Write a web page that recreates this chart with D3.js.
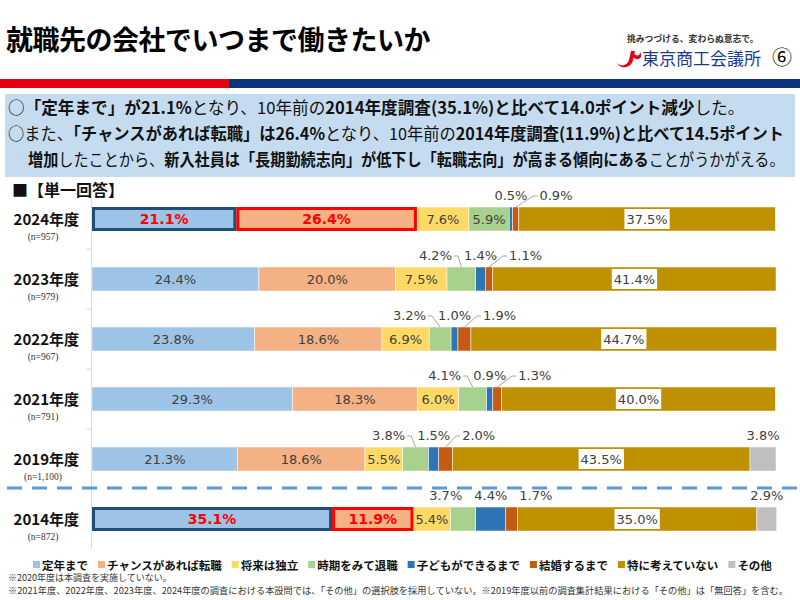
<!DOCTYPE html>
<html><head><meta charset="utf-8">
<script src="https://cdn.jsdelivr.net/npm/d3@7"></script>
<style>
html,body{margin:0;padding:0;background:#fff;}
svg{display:block;font-family:"Noto Sans CJK JP","Noto Sans",sans-serif;}
</style></head>
<body>
<svg id="chart" width="800" height="600"></svg>
<script>
// ---------- data ----------
const categories = ["2024年度","2023年度","2022年度","2021年度","2019年度","2014年度"];
const sampleSizes = ["(n=957)","(n=979)","(n=967)","(n=791)","(n=1,100)","(n=872)"];
const seriesNames = ["定年まで","チャンスがあれば転職","将来は独立","時期をみて退職","子どもができるまで","結婚するまで","特に考えていない","その他"];
const teinen    = [21.1, 24.4, 23.8, 29.3, 21.3, 35.1];
const chance    = [26.4, 20.0, 18.6, 18.3, 18.6, 11.9];
const dokuritsu = [7.6, 7.5, 6.9, 6.0, 5.5, 5.4];
const jiki      = [5.9, 4.2, 3.2, 4.1, 3.8, 3.7];
const kodomo    = [0.5, 1.4, 1.0, 0.9, 1.5, 4.4];
const kekkon    = [0.9, 1.1, 1.9, 1.3, 2.0, 1.7];
const tokuni    = [37.5, 41.4, 44.7, 40.0, 43.5, 35.0];
const sonota    = [null, null, null, null, 3.8, 2.9];
const highlightRows = ["2024年度","2014年度"];
const footnotes = [
  "※2020年度は本調査を実施していない。",
  "※2021年度、2022年度、2023年度、2024年度の調査における本設問では、「その他」の選択肢を採用していない。※2019年度以前の調査集計結果における「その他」は「無回答」を含む。"
];

const seriesValues = [teinen, chance, dokuritsu, jiki, kodomo, kekkon, tokuni, sonota];
const colors = ["#9dc3e6","#f4b183","#ffd966","#a9d18e","#2e75b6","#c55a11","#bf9000","#bfbfbf"];

const rows = categories.map((c,i)=>{
  const o = {cat:c, n:sampleSizes[i]};
  seriesNames.forEach((s,k)=>{ o[s] = seriesValues[k][i] || 0; o["_has"+k] = seriesValues[k][i] != null; });
  return o;
});

const svg = d3.select("#chart");

// ---------- header ----------
svg.append("text").attr("x",6).attr("y",50)
  .attr("font-size",27).attr("font-weight",700).attr("fill","#000")
  .attr("letter-spacing",-0.5)
  .text("就職先の会社でいつまで働きたいか");

svg.append("text").attr("x",627).attr("y",42).attr("font-size",8.8).attr("font-weight",700)
  .attr("fill","#333").text("挑みつづける、変わらぬ意志で。");
svg.append("path")
  .attr("d","M616,61 C618,67 627,67 629,60 L631,51 L635,51 L633,60 C631,69 619,70 616,61 Z M632,52 C636,56 639,57 641,52 L641,57 C638,61 635,59 632,56 Z")
  .attr("fill","#e60012");
svg.append("text").attr("x",642).attr("y",65).attr("font-size",17).attr("fill","#1b3a8c")
  .text("東京商工会議所");
svg.append("text").attr("x",772).attr("y",65).attr("font-size",20).attr("fill","#000").text("⑥");

svg.append("rect").attr("x",0).attr("y",79).attr("width",229).attr("height",9).attr("fill","#e60012");
svg.append("rect").attr("x",229).attr("y",79).attr("width",571).attr("height",9).attr("fill","#0c347c");

// summary box
svg.append("rect").attr("x",5).attr("y",94).attr("width",790).attr("height",83).attr("fill","#c5dcf0");
const lines = [
  {x:8, y:114, w:737, parts:[["○",0],["「定年まで」が21.1%",1],["となり、10年前の",0],["2014年度調査(35.1%)と比べて14.0ポイント減少",1],["した。",0]]},
  {x:8, y:140, w:777, parts:[["○また、",0],["「チャンスがあれば転職」は26.4%",1],["となり、10年前の",0],["2014年度調査(11.9%)と比べて14.5ポイント",1]]},
  {x:28, y:166, w:757, parts:[["増加",1],["したことから、",0],["新入社員は「長期勤続志向」が低下し「転職志向」が高まる傾向にある",1],["ことがうかがえる。",0]]}
];
lines.forEach(l=>{
  const g = svg.append("g");
  const t = g.append("text").attr("x",0).attr("y",0).attr("font-size",16.5).attr("fill","#111");
  l.parts.forEach(p=>t.append("tspan").attr("font-weight",p[1]?700:400).text(p[0]));
  const nat = t.node().getComputedTextLength();
  g.attr("transform",`translate(${l.x},${l.y}) scale(${l.w/nat},1)`);
});

svg.append("text").attr("x",12).attr("y",196).attr("font-size",16).attr("font-weight",700)
  .attr("fill","#111").text("■【単一回答】");

// ---------- chart ----------
const x = d3.scaleLinear().domain([0,100]).range([92,776]);
const y = d3.scaleBand().domain(categories).range([189,549]).paddingInner(0.6).paddingOuter(0.3);
const bh = y.bandwidth();
const step = y.step();

// axis line + ticks
svg.append("line").attr("x1",91.5).attr("x2",91.5).attr("y1",191).attr("y2",549)
  .attr("stroke","#d9d9d9").attr("stroke-width",1);
categories.slice(1).forEach(c=>{
  const yy = y(c) - (step-bh)/2;
  svg.append("line").attr("x1",86).attr("x2",91).attr("y1",yy).attr("y2",yy).attr("stroke","#d9d9d9");
});

// dashed separator
const sepY = y("2014年度") - (step-bh)/2 - 1;
svg.append("line").attr("x1",7).attr("x2",800).attr("y1",sepY).attr("y2",sepY)
  .attr("stroke","#5b9bd5").attr("stroke-width",3).attr("stroke-dasharray","15 10");

// category labels
categories.forEach((c,i)=>{
  const cy = y(c)+bh/2;
  svg.append("text").attr("x",79).attr("y",cy+6).attr("text-anchor","end")
    .attr("font-size",15).attr("font-weight",700).attr("fill","#111").text(c);
  svg.append("text").attr("x",43).attr("y",cy+21).attr("text-anchor","middle")
    .attr("font-size",9.5).attr("fill","#333").attr("font-family","Liberation Serif, serif").text(sampleSizes[i]);
});

const stack = d3.stack().keys(seriesNames)(rows);

const gBars = svg.append("g");
stack.forEach((layer,k)=>{
  gBars.selectAll(null).data(layer.filter(d=>d.data["_has"+k])).enter().append("rect")
    .attr("x",d=>x(d[0])).attr("width",d=>x(d[1])-x(d[0]))
    .attr("y",d=>y(d.data.cat)).attr("height",bh)
    .attr("fill",colors[k]).attr("stroke","#fff").attr("stroke-width",0.5);
});

// highlight frames
highlightRows.forEach(cat=>{
  [[0,"#1f4e79"],[1,"#ff0000"]].forEach(([k,col])=>{
    const d = stack[k].find(e=>e.data.cat===cat);
    svg.append("rect").attr("x",x(d[0])+1.5).attr("y",y(cat)+1.5)
      .attr("width",x(d[1])-x(d[0])-3).attr("height",bh-3)
      .attr("fill","none").attr("stroke",col).attr("stroke-width",3);
  });
});

const fmt = v=>v.toFixed(1)+"%";
const labelG = svg.append("g");
function measure(str,size,weight){
  const t = labelG.append("text").attr("font-size",size).attr("font-weight",weight||400)
    .attr("font-family","DejaVu Sans, sans-serif").text(str);
  const w = t.node().getComputedTextLength(); t.remove(); return w;
}
function outLabel(str,x0,yb){
  labelG.append("text").attr("x",x0).attr("y",yb)
    .attr("font-family","DejaVu Sans, sans-serif").attr("font-size",13).attr("fill","#404040").text(str);
}
function leader(pts){
  labelG.append("path").attr("d",d3.line()(pts)).attr("fill","none").attr("stroke","#a6a6a6").attr("stroke-width",1);
}

rows.forEach((r)=>{
  const cat = r.cat;
  const top = y(cat);
  const cy = top+bh/2;
  const hl = highlightRows.includes(cat);
  const seg = k=>{ const d = stack[k].find(e=>e.data.cat===cat); return {x0:x(d[0]),x1:x(d[1]),cx:(x(d[0])+x(d[1]))/2,v:r[seriesNames[k]],has:r["_has"+k]}; };
  const outside = {};
  for(let k=0;k<8;k++){
    const s = seg(k);
    if(!s.has) continue;
    const isOut = (k>=3 && k!==6 && s.v<5);
    if(!isOut){
      const red = hl && k<2;
      const size = red?14:13;
      const w = measure(fmt(s.v),size,red?700:400);
      if(k===6){
        labelG.append("rect").attr("x",s.cx-w/2-2).attr("y",cy-10).attr("width",w+4).attr("height",20).attr("fill","#fff");
      }
      labelG.append("text").attr("x",s.cx).attr("y",cy+5).attr("text-anchor","middle")
        .attr("font-family","DejaVu Sans, sans-serif")
        .attr("font-size",size).attr("font-weight",red?700:400)
        .attr("fill",red?"#ff0000":"#404040").text(fmt(s.v));
    } else {
      outside[k] = {s, w:measure(fmt(s.v),13)};
    }
  }
  const ly = top-7;
  const gap = 12;
  const b = outside[4];
  const bL = b.s.cx - b.w/2, bR = b.s.cx + b.w/2;
  outLabel(fmt(b.s.v), bL, ly);
  if(outside[3]){
    const g = outside[3];
    const end = bL - gap, start = end - g.w;
    outLabel(fmt(g.s.v), start, ly);
    if(g.s.cx > end+3) leader([[end+2,ly-4],[end+6,ly-4],[g.s.cx,top]]);
  }
  if(outside[5]){
    const o = outside[5];
    const start = bR + gap;
    outLabel(fmt(o.s.v), start, ly);
    if(o.s.cx < start-10) leader([[start-2,ly-4],[start-6,ly-4],[o.s.cx,top]]);
  }
  if(outside[7]){
    const o = outside[7];
    outLabel(fmt(o.s.v), o.s.cx - o.w/2, ly);
  }
});

// ---------- legend ----------
const leg = svg.append("g");
let lx = 33;
seriesNames.forEach((s,k)=>{
  leg.append("rect").attr("x",lx).attr("y",561).attr("width",7).attr("height",7).attr("fill",colors[k]);
  const t = leg.append("text").attr("x",lx+9).attr("y",569.5).attr("font-size",11.5).attr("font-weight",700)
    .attr("fill","#111").text(s);
  lx += 9 + t.node().getComputedTextLength() + 10;
});

// ---------- footnotes ----------
svg.append("text").attr("x",8).attr("y",581).attr("font-size",9).attr("fill","#333").text(footnotes[0]);
svg.append("text").attr("x",8).attr("y",594).attr("font-size",9).attr("fill","#333")
  .attr("textLength",780).attr("lengthAdjust","spacingAndGlyphs").text(footnotes[1]);
</script>
</body></html>
